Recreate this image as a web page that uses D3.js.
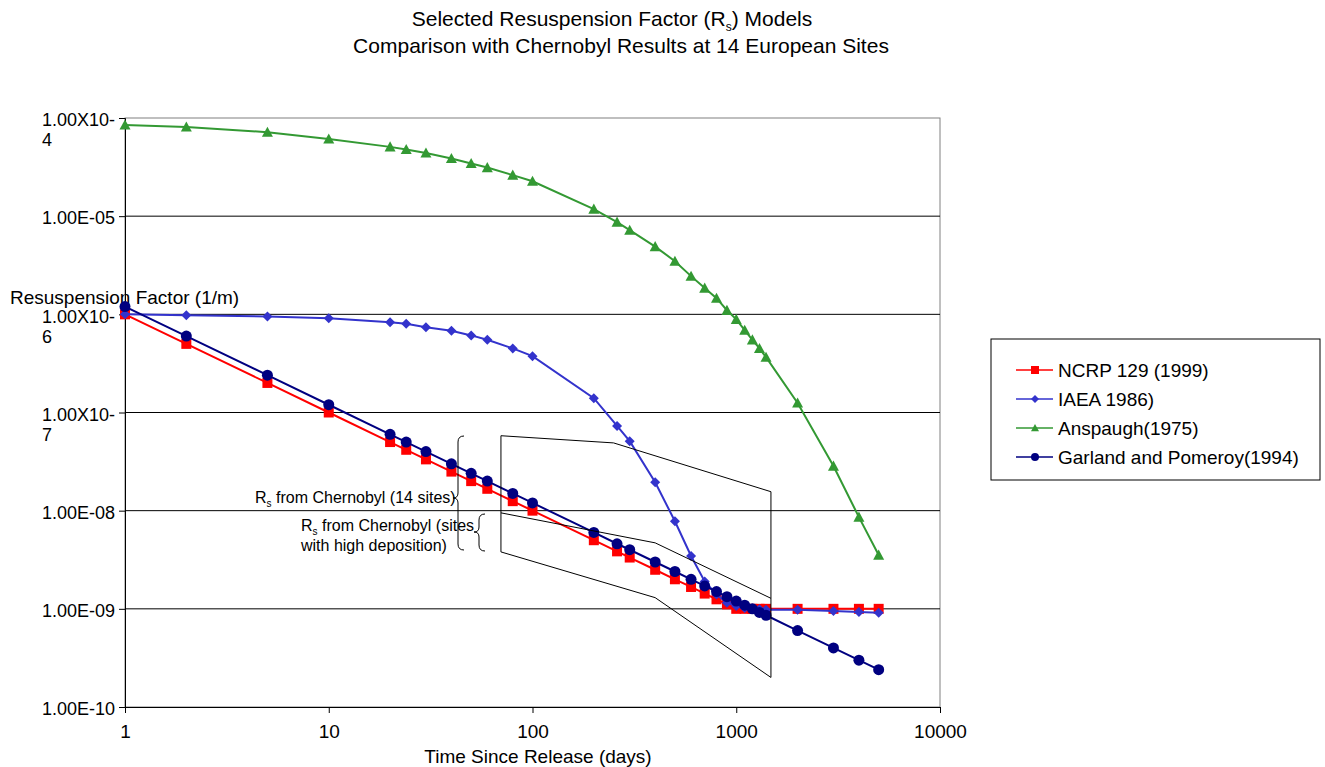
<!DOCTYPE html>
<html>
<head>
<meta charset="utf-8">
<script src="https://cdn.jsdelivr.net/npm/d3@7"></script>
<style>
  body { margin: 0; background: #fff; }
  text { font-family: Arial, "Liberation Sans", sans-serif; fill: #000; }
</style>
</head>
<body>
<div class="canvas"></div>
<script>
// time since release (days), shared by all four series
const days = [1, 2, 5, 10, 20, 24, 30, 40, 50, 60, 80, 100, 200, 260, 300, 400, 500, 600,
  700, 800, 900, 1000, 1100, 1200, 1300, 1400, 2000, 3000, 4000, 5000];

// resuspension factor values (1/m)
const ncrp = [1e-6, 5e-7, 2e-7, 1e-7, 5e-8, 4.17e-8, 3.33e-8, 2.5e-8, 2e-8, 1.67e-8, 1.25e-8, 1e-8,
  5e-9, 3.85e-9, 3.33e-9, 2.5e-9, 2e-9, 1.67e-9, 1.43e-9, 1.25e-9, 1.11e-9, 1e-9,
  1e-9, 1e-9, 1e-9, 1e-9, 1e-9, 1e-9, 1e-9, 1e-9];
const iaea = [1e-6, 9.8e-7, 9.5e-7, 9.1e-7, 8.3e-7, 8e-7, 7.4e-7, 6.8e-7, 6.1e-7, 5.5e-7, 4.5e-7, 3.75e-7,
  1.4e-7, 7.3e-8, 5.1e-8, 1.95e-8, 7.8e-9, 3.45e-9, 1.9e-9, 1.4e-9, 1.15e-9, 1.07e-9,
  1.02e-9, 1e-9, 9.9e-10, 9.8e-10, 9.8e-10, 9.5e-10, 9.3e-10, 9.1e-10];
const anspaugh = [8.5e-5, 8.1e-5, 7.16e-5, 6.12e-5, 5.08e-5, 4.78e-5, 4.41e-5, 3.87e-5, 3.44e-5, 3.13e-5, 2.62e-5, 2.27e-5,
  1.18e-5, 8.7e-6, 7.2e-6, 4.9e-6, 3.48e-6, 2.45e-6, 1.85e-6, 1.46e-6, 1.1e-6, 8.9e-7,
  6.9e-7, 5.5e-7, 4.5e-7, 3.66e-7, 1.25e-7, 2.85e-8, 8.6e-9, 3.53e-9];
const garland = [1.2e-6, 6e-7, 2.4e-7, 1.2e-7, 6e-8, 5e-8, 4e-8, 3e-8, 2.4e-8, 2e-8, 1.5e-8, 1.2e-8,
  6e-9, 4.6e-9, 4e-9, 3e-9, 2.4e-9, 2e-9, 1.71e-9, 1.5e-9, 1.33e-9, 1.2e-9,
  1.09e-9, 1e-9, 9.2e-10, 8.6e-10, 6e-10, 4e-10, 3e-10, 2.4e-10];

const seriesNames = ['NCRP 129 (1999)', 'IAEA 1986)', 'Anspaugh(1975)', 'Garland and Pomeroy(1994)'];

// axis ticks
const xTicks = [1, 10, 100, 1000, 10000];
const yTicks = [1e-10, 1e-9, 1e-8, 1e-7, 1e-6, 1e-5, 1e-4];
const yTickLabels = [['1.00E-10'], ['1.00E-09'], ['1.00E-08'], ['1.00X10-', '7'], ['1.00X10-', '6'], ['1.00E-05'], ['1.00X10-', '4']];

// chernobyl ranges (days, 1/m)
const chernobylAll = [[70, 5.8e-8], [250, 4.9e-8], [1480, 1.56e-8], [1480, 2.0e-10], [400, 1.3e-9], [70, 3.8e-9]];
const chernobylHigh = [[70, 9.5e-9], [400, 4.7e-9], [1480, 1.28e-9]];

const dims = { width: 1325, height: 767 };
const plot = { left: 125, right: 940, top: 118, bottom: 707 };

const svg = d3.select('.canvas')
    .append('svg')
    .attr('width', dims.width)
    .attr('height', dims.height);

const x = d3.scaleLog().domain([1, 10000]).range([plot.left, plot.right]);
const y = d3.scaleLog().domain([1e-10, 1e-4]).range([plot.bottom, plot.top]);

// title
const t1 = svg.append('text').attr('x', 612).attr('y', 26).attr('text-anchor', 'middle').style('font-size', '21px');
t1.append('tspan').text('Selected Resuspension Factor (R');
t1.append('tspan').attr('dy', 5).style('font-size', '12px').text('s');
t1.append('tspan').attr('dy', -5).text(') Models');
svg.append('text').attr('x', 621).attr('y', 53).attr('text-anchor', 'middle').style('font-size', '21px')
    .text('Comparison with Chernobyl Results at 14 European Sites');

// y axis title sits behind the plot
svg.append('text').attr('x', 10).attr('y', 304).style('font-size', '19px').text('Resuspension Factor (1/m)');

// plot frame and gridlines
svg.append('rect')
    .attr('x', plot.left).attr('y', plot.top)
    .attr('width', plot.right - plot.left).attr('height', plot.bottom - plot.top)
    .attr('fill', 'none').attr('stroke', '#808080');

svg.append('g').selectAll('line')
    .data(yTicks.slice(1, -1))
    .enter().append('line')
    .attr('x1', plot.left).attr('x2', plot.right)
    .attr('y1', d => y(d)).attr('y2', d => y(d))
    .attr('stroke', '#000');

// axes
const yAxis = svg.append('g')
    .attr('transform', `translate(${plot.left},0)`)
    .call(d3.axisLeft(y).tickValues(yTicks).tickSize(6).tickPadding(4)
        .tickFormat((d, i) => yTickLabels[i][0]));
yAxis.select('.domain').attr('stroke', '#000');
yAxis.selectAll('.tick text').style('font-size', '18px').attr('fill', '#000').attr('y', 2);
yAxis.selectAll('.tick').each(function (d, i) {
    const lines = yTickLabels[i];
    if (lines.length < 2) return;
    const first = d3.select(this).select('text');
    const len = first.node().getComputedTextLength();
    d3.select(this).append('text')
        .attr('x', -10 - len).attr('y', 22)
        .attr('dy', '0.32em')
        .attr('text-anchor', 'start')
        .style('font-size', '18px')
        .text(lines[1]);
});

const xAxis = svg.append('g')
    .attr('transform', `translate(0,${plot.bottom})`)
    .call(d3.axisBottom(x).tickValues(xTicks).tickSize(6).tickPadding(12)
        .tickFormat(d => String(d)));
xAxis.select('.domain').attr('stroke', '#000');
xAxis.selectAll('.tick text').style('font-size', '19px').attr('fill', '#000');

svg.append('text').attr('x', 538).attr('y', 763).attr('text-anchor', 'middle').style('font-size', '19px')
    .text('Time Since Release (days)');

// markers
const markerPath = {
    square: s => `M${-s / 2},${-s / 2}h${s}v${s}h${-s}Z`,
    diamond: s => `M0,${-s / 2}L${s / 2},0L0,${s / 2}L${-s / 2},0Z`,
    triangle: s => `M0,${-s / 2}L${s / 2},${s * 0.42}L${-s / 2},${s * 0.42}Z`,
    circle: s => d3.symbol(d3.symbolCircle, Math.PI * s * s / 4)()
};

const series = [
    { name: seriesNames[0], values: ncrp, color: '#FF0000', marker: 'square', size: 10 },
    { name: seriesNames[1], values: iaea, color: '#3333CC', marker: 'diamond', size: 10 },
    { name: seriesNames[2], values: anspaugh, color: '#339933', marker: 'triangle', size: 11 },
    { name: seriesNames[3], values: garland, color: '#000080', marker: 'circle', size: 11 }
];

const line = d3.line().x(d => x(d[0])).y(d => y(d[1]));

series.forEach(s => {
    const pts = days.map((d, i) => [d, s.values[i]]);
    const g = svg.append('g');
    g.append('path')
        .attr('d', line(pts))
        .attr('fill', 'none')
        .attr('stroke', s.color)
        .attr('stroke-width', 2);
    g.selectAll('.pt')
        .data(pts)
        .enter().append('path')
        .attr('class', 'pt')
        .attr('transform', d => `translate(${x(d[0])},${y(d[1])})`)
        .attr('d', markerPath[s.marker](s.size))
        .attr('fill', s.color);
});

// chernobyl range shapes
svg.append('path')
    .attr('d', line(chernobylAll) + 'Z')
    .attr('fill', 'none').attr('stroke', '#000').attr('stroke-width', 1);
svg.append('path')
    .attr('d', line(chernobylHigh))
    .attr('fill', 'none').attr('stroke', '#000').attr('stroke-width', 1);

// braces and notes
const brace = (x0, top, bottom, mid) =>
    `M${x0 + 6},${top} Q${x0},${top} ${x0},${top + 6} L${x0},${mid - 5} Q${x0},${mid} ${x0 - 5},${mid}` +
    ` Q${x0},${mid} ${x0},${mid + 5} L${x0},${bottom - 6} Q${x0},${bottom} ${x0 + 6},${bottom}`;
svg.append('path').attr('d', brace(458, 436, 550, 498)).attr('fill', 'none').attr('stroke', '#000');
svg.append('path').attr('d', brace(479, 514, 551, 532)).attr('fill', 'none').attr('stroke', '#000');

const note1 = svg.append('text').attr('x', 255).attr('y', 503).style('font-size', '16px');
note1.append('tspan').text('R');
note1.append('tspan').attr('dy', 4).style('font-size', '10px').text('s');
note1.append('tspan').attr('dy', -4).text(' from Chernobyl (14 sites)');

const note2 = svg.append('text').attr('x', 301).attr('y', 531).style('font-size', '16px');
note2.append('tspan').text('R');
note2.append('tspan').attr('dy', 4).style('font-size', '10px').text('s');
note2.append('tspan').attr('dy', -4).text(' from Chernobyl (sites');
svg.append('text').attr('x', 301).attr('y', 551).style('font-size', '16px').text('with high deposition)');

// legend
const legend = svg.append('g').attr('transform', 'translate(991,339)');
legend.append('rect').attr('width', 329).attr('height', 141)
    .attr('fill', '#fff').attr('stroke', '#000');
const items = legend.selectAll('.item')
    .data(series)
    .enter().append('g')
    .attr('class', 'item')
    .attr('transform', (d, i) => `translate(0,${31 + i * 29})`);
items.append('line').attr('x1', 25).attr('x2', 62)
    .attr('stroke', d => d.color).attr('stroke-width', 1.5);
items.append('path')
    .attr('transform', 'translate(44,0)')
    .attr('d', d => markerPath[d.marker](8))
    .attr('fill', d => d.color);
items.append('text').attr('x', 67).attr('y', 7).style('font-size', '19px').text(d => d.name);
</script>
</body>
</html>
